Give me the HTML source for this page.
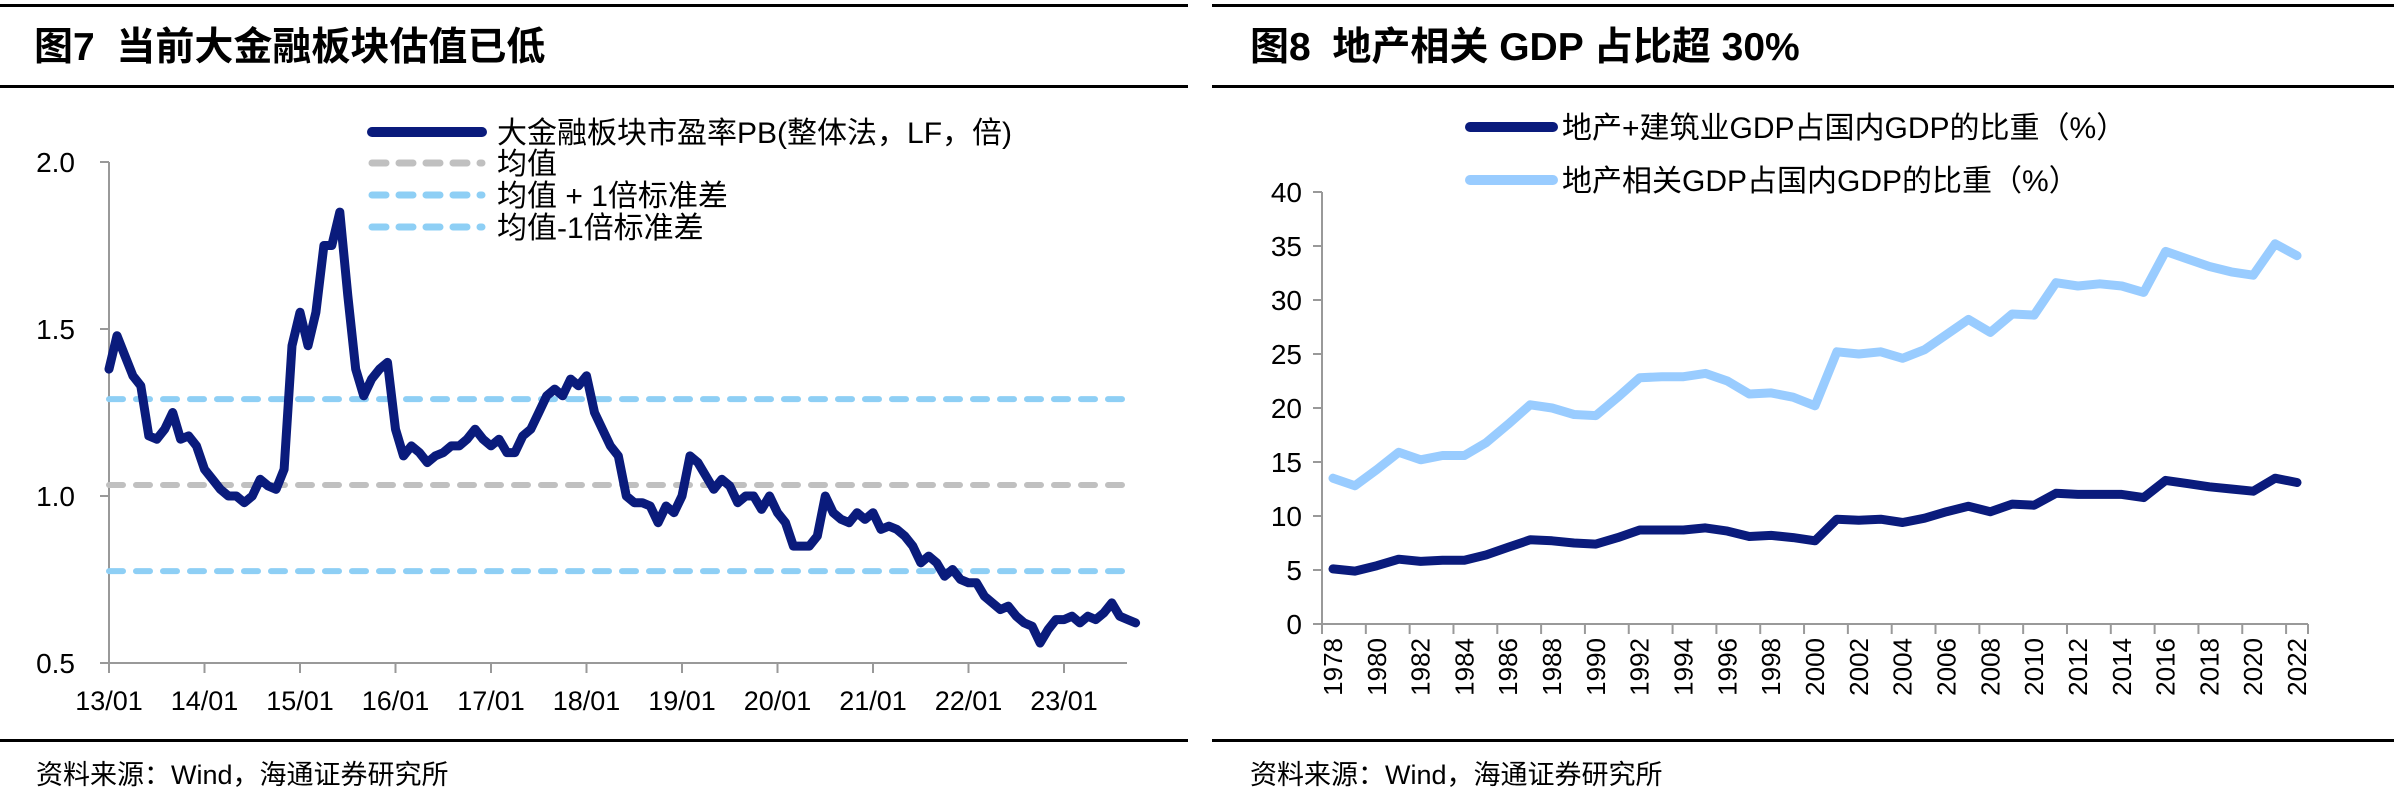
<!DOCTYPE html>
<html><head><meta charset="utf-8"><style>
html,body{margin:0;padding:0;background:#fff;}
svg{display:block;font-family:"Liberation Sans","Noto Sans CJK SC",sans-serif;}
</style></head><body>
<svg id="root" width="2394" height="795" viewBox="0 0 2394 795" xmlns="http://www.w3.org/2000/svg">
<rect x="0" y="4" width="1188" height="3" fill="#000"/>
<rect x="0" y="85" width="1188" height="3" fill="#000"/>
<rect x="0" y="739" width="1188" height="3" fill="#000"/>
<rect x="1212" y="4" width="1182" height="3" fill="#000"/>
<rect x="1212" y="85" width="1182" height="3" fill="#000"/>
<rect x="1212" y="739" width="1182" height="3" fill="#000"/>
<text x="34" y="60" font-size="39" font-weight="bold">图7&#160;&#160;当前大金融板块估值已低</text>
<text x="1250" y="60" font-size="39" font-weight="bold">图8&#160;&#160;地产相关 GDP 占比超 30%</text>
<text x="36" y="784" font-size="27">资料来源：Wind，海通证券研究所</text>
<text x="1250" y="784" font-size="27">资料来源：Wind，海通证券研究所</text>
<g id="left"></g>
<g id="right"></g>
</svg>
<script>
// ---- Left chart data ----
const pbStartLabels = ["13/01","14/01","15/01","16/01","17/01","18/01","19/01","20/01","21/01","22/01","23/01"];
const pbTicks = [0.5,1.0,1.5,2.0];
const pbMean = 1.033;
const pbPlus1 = 1.29;
const pbMinus1 = 0.775;
const pbValues = [
1.38,1.48,1.42,1.36,1.33,1.18,1.17,1.20,1.25,1.17,1.18,1.15,
1.08,1.05,1.02,1.00,1.00,0.98,1.00,1.05,1.03,1.02,1.08,1.45,
1.55,1.45,1.55,1.75,1.75,1.85,1.60,1.38,1.30,1.35,1.38,1.40,
1.20,1.12,1.15,1.13,1.10,1.12,1.13,1.15,1.15,1.17,1.20,1.17,
1.15,1.17,1.13,1.13,1.18,1.20,1.25,1.30,1.32,1.30,1.35,1.33,
1.36,1.25,1.20,1.15,1.12,1.00,0.98,0.98,0.97,0.92,0.97,0.95,
1.00,1.12,1.10,1.06,1.02,1.05,1.03,0.98,1.00,1.00,0.96,1.00,
0.95,0.92,0.85,0.85,0.85,0.88,1.00,0.95,0.93,0.92,0.95,0.93,
0.95,0.90,0.91,0.90,0.88,0.85,0.80,0.82,0.80,0.76,0.78,0.75,
0.74,0.74,0.70,0.68,0.66,0.67,0.64,0.62,0.61,0.56,0.60,0.63,
0.63,0.64,0.62,0.64,0.63,0.65,0.68,0.64,0.63,0.62];
const pbLegend = ["大金融板块市盈率PB(整体法，LF，倍)","均值","均值 + 1倍标准差","均值-1倍标准差"];

// ---- Right chart data ----
const gdpYears = [];
for (let y = 1978; y <= 2022; y++) gdpYears.push(y);
const gdpTicks = [0,5,10,15,20,25,30,35,40];
const constructionShare = [5.1,4.9,5.4,6.0,5.8,5.9,5.9,6.4,7.1,7.8,7.7,7.5,7.4,8.0,8.7,8.7,8.7,8.9,8.6,8.1,8.2,8.0,7.7,9.7,9.6,9.7,9.4,9.8,10.4,10.9,10.4,11.1,11.0,12.1,12.0,12.0,12.0,11.7,13.3,13.0,12.7,12.5,12.3,13.5,13.1];
const relatedShare = [13.5,12.8,14.3,15.9,15.2,15.6,15.6,16.8,18.5,20.3,20.0,19.4,19.3,21.0,22.8,22.9,22.9,23.2,22.5,21.3,21.4,21.0,20.2,25.2,25.0,25.2,24.6,25.4,26.8,28.2,27.0,28.7,28.6,31.6,31.3,31.5,31.3,30.7,34.5,33.8,33.1,32.6,32.3,35.2,34.1];
const gdpLegend = ["地产+建筑业GDP占国内GDP的比重（%）","地产相关GDP占国内GDP的比重（%）"];

const NS = "http://www.w3.org/2000/svg";
function mk(parent, tag, attrs, text) {
  const el = document.createElementNS(NS, tag);
  for (const k in attrs) el.setAttribute(k, attrs[k]);
  if (text !== undefined) el.textContent = text;
  parent.appendChild(el);
  return el;
}

// ---- Left chart ----
(function(){
  const g = document.getElementById("left");
  const x0 = 109, xEnd = 1127, yBase = 663, unit = 334;
  const nMonths = 129;
  const monthW = 95.5 / 12;
  const X = m => x0 + m * monthW;
  const Y = v => yBase - (v - 0.5) * unit;
  const ax = mk(g, "line", {x1:x0, y1:Y(2.0), x2:x0, y2:yBase, stroke:"#999", "stroke-width":2});
  
  
  const xa = mk(g, "line", {x1:x0, y1:yBase, x2:xEnd, y2:yBase, stroke:"#999", "stroke-width":2});
  
  
  pbTicks.forEach(t => {
    mk(g, "line", {x1:x0-9, y1:Y(t), x2:x0, y2:Y(t), stroke:"#999", "stroke-width":2});
    const lb = mk(g, "text", {x:x0-34, y:Y(t)+10, "font-size":28, "text-anchor":"end"}, t.toFixed(1));
    
    
  });
  pbStartLabels.forEach((l, i) => {
    const xx = X(i * 12);
    mk(g, "line", {x1:xx, y1:yBase, x2:xx, y2:yBase+10, stroke:"#999", "stroke-width":2});
    const lb = mk(g, "text", {x:xx, y:710, "font-size":27, "text-anchor":"middle"}, l);
    
    
  });
  const refs = [[pbPlus1,"#8ecff5","plus-1sd-line"],[pbMean,"#c0c0c0","mean-line"],[pbMinus1,"#8ecff5","minus-1sd-line"]];
  refs.forEach(r => {
    const ln = mk(g, "line", {x1:x0, y1:Y(r[0]), x2:xEnd, y2:Y(r[0]), stroke:r[1], "stroke-width":6, "stroke-dasharray":"14 13", "stroke-linecap":"round"});
    
    
  });
  const pts = pbValues.map((v, i) => X(i).toFixed(1) + "," + Y(v).toFixed(1)).join(" ");
  const pl = mk(g, "polyline", {points:pts, fill:"none", stroke:"#0a1b7c", "stroke-width":9, "stroke-linejoin":"round", "stroke-linecap":"round"});
  
  
  const ly = [132,163,195,227];
  const lstyle = [["#0a1b7c",""],["#c0c0c0","14 13"],["#8ecff5","14 13"],["#8ecff5","14 13"]];
  pbLegend.forEach((t, i) => {
    const s = mk(g, "line", {x1:372, y1:ly[i], x2:482, y2:ly[i], stroke:lstyle[i][0], "stroke-width":i==0?10:7, "stroke-dasharray":lstyle[i][1], "stroke-linecap":"round"});
    
    
    const tx = mk(g, "text", {x:497, y:ly[i]+11, "font-size":30}, t);
    
    
  });
})();

// ---- Right chart ----
(function(){
  const g = document.getElementById("right");
  const x0 = 1322, x1 = 2308, yBase = 624, pxPer = 10.8;
  const bw = (x1 - x0) / gdpYears.length;
  const X = i => x0 + bw * (i + 0.5);
  const Y = v => yBase - v * pxPer;
  const ax = mk(g, "line", {x1:x0, y1:Y(40), x2:x0, y2:yBase, stroke:"#999", "stroke-width":2});
  
  
  const xa = mk(g, "line", {x1:x0, y1:yBase, x2:x1, y2:yBase, stroke:"#999", "stroke-width":2});
  
  
  gdpTicks.forEach(t => {
    mk(g, "line", {x1:x0-9, y1:Y(t), x2:x0, y2:Y(t), stroke:"#999", "stroke-width":2});
    const lb = mk(g, "text", {x:x0-20, y:Y(t)+10, "font-size":28, "text-anchor":"end"}, String(t));
    
    
  });
  gdpYears.forEach((yr, i) => {
    if (i % 2 === 0) {
      mk(g, "line", {x1:x0 + bw*i, y1:yBase, x2:x0 + bw*i, y2:yBase+10, stroke:"#999", "stroke-width":2});
      const xx = X(i) + 9, yy = 638;
      const lb = mk(g, "text", {x:xx, y:yy, "font-size":26, "text-anchor":"end", transform:"rotate(-90 "+xx+" "+yy+")"}, String(yr));
      
      
    }
  });
  mk(g, "line", {x1:x1, y1:yBase, x2:x1, y2:yBase+10, stroke:"#999", "stroke-width":2});
  const series = [[relatedShare,"#99ccff","related-gdp-share-line"],[constructionShare,"#0a1b7c","construction-gdp-share-line"]];
  series.forEach(s => {
    const pts = s[0].map((v, i) => X(i).toFixed(1) + "," + Y(v).toFixed(1)).join(" ");
    const pl = mk(g, "polyline", {points:pts, fill:"none", stroke:s[1], "stroke-width":9, "stroke-linejoin":"round", "stroke-linecap":"round"});
    
    
  });
  const ly = [127,180];
  const lc = ["#0a1b7c","#99ccff"];
  gdpLegend.forEach((t, i) => {
    const s = mk(g, "line", {x1:1470, y1:ly[i], x2:1553, y2:ly[i], stroke:lc[i], "stroke-width":10, "stroke-linecap":"round"});
    
    
    const tx = mk(g, "text", {x:1562, y:ly[i]+11, "font-size":30}, t);
    
    
  });
})();
</script>
</body></html>
